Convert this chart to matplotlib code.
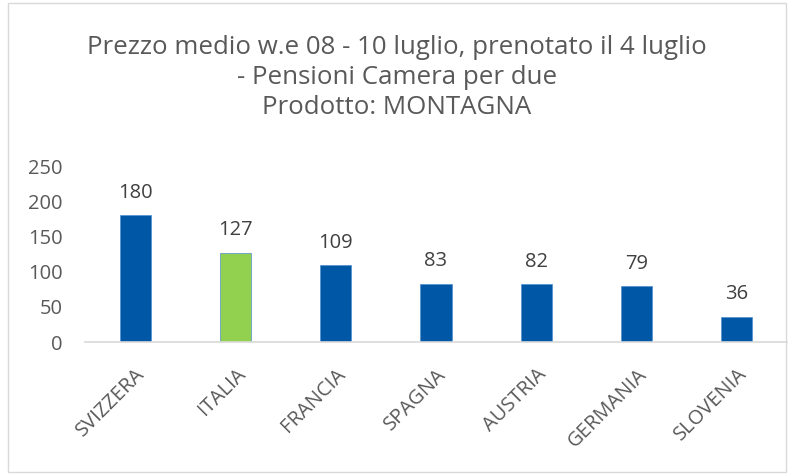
import matplotlib.pyplot as plt
from matplotlib.patches import Rectangle

# data
paesi = ["SVIZZERA", "ITALIA", "FRANCIA", "SPAGNA", "AUSTRIA", "GERMANIA", "SLOVENIA"]
prezzi = [180, 127, 109, 83, 82, 79, 36]
colori = ["#0057A6", "#92D050", "#0057A6", "#0057A6", "#0057A6", "#0057A6", "#0057A6"]

plt.rcParams['font.family'] = ['Open Sans', 'DejaVu Sans']
grigio = "#595959"

fig = plt.figure(figsize=(7.94, 4.74), dpi=100)
fig.patches.append(Rectangle((8 / 794, 2 / 474), 778 / 794, 469 / 474, transform=fig.transFigure,
                             fill=False, edgecolor="#D9D9D9", linewidth=1))

ax = fig.add_axes([85 / 794, 1 - 342 / 474, 702 / 794, 176 / 474])
x = range(len(paesi))
bars = ax.bar(x, prezzi, width=0.31, color=colori, edgecolor="#4F8FD0", linewidth=0.5, zorder=2)
for b, v in zip(bars, prezzi):
    ax.text(b.get_x() + b.get_width() / 2, v + 18, str(v), ha='center', va='bottom',
            fontsize=14.5, color="#404040")

ax.set_xlim(-0.5, len(paesi) - 0.5)
ax.set_ylim(0, 250)
ax.set_yticks(range(0, 251, 50))
ax.set_xticks(list(x))
ax.set_xticklabels(paesi, rotation=45, ha='right', rotation_mode='anchor')
ax.tick_params(axis='both', length=0, labelsize=14.5, labelcolor=grigio)
ax.tick_params(axis='y', pad=16)
ax.tick_params(axis='x', pad=16)
for s in ['top', 'right', 'left']:
    ax.spines[s].set_visible(False)
ax.spines['bottom'].set_color("#D9D9D9")
ax.spines['bottom'].set_linewidth(1.2)

fig.text(0.5, 1 - 47 / 474, "Prezzo medio w.e 08 - 10 luglio, prenotato il 4 luglio", ha='center', va='center',
         fontsize=18.6, color=grigio)
fig.text(0.5, 1 - 77 / 474, "- Pensioni Camera per due", ha='center', va='center', fontsize=18.6, color=grigio)
fig.text(0.5, 1 - 107 / 474, "Prodotto: MONTAGNA", ha='center', va='center', fontsize=18.6, color=grigio)

fig.savefig("out.png", dpi=100)
